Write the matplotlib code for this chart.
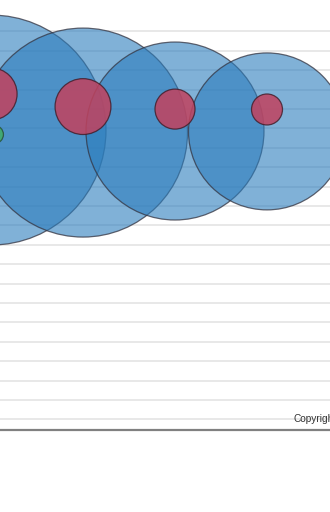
import numpy as np
import matplotlib
matplotlib.use("Agg")
import matplotlib.pyplot as plt

# category positions along x (index), only the left part of the chart is visible
blue_x = [0, 1, 2, 3]
blue_y = [14.91, 14.78, 14.86, 14.84]
blue_z = [132.3, 109.2, 79.2, 61.6]

red_x = [0, 1, 2, 3]
red_y = [16.77, 16.12, 15.99, 15.97]
red_z = [6.8, 7.8, 4.0, 2.4]

green_x = [0.03]
green_y = [14.71]
green_z = [0.8]

grid_ticks = list(range(21))


def bubble_size(z):
    # z -> radius in px (10*sqrt(z)), then to scatter area in points^2
    r_px = 10 * np.sqrt(np.array(z))
    return (2 * r_px * 72 / 100) ** 2


fig = plt.figure(figsize=(3.3, 5.12), dpi=100)
ax = fig.add_axes([0, 82 / 512, 1, 430 / 512])

ax.set_xlim(9 / 92, 339 / 92)
ax.set_ylim(-0.55, 419.3 / 19.4)

ax.set_yticks(grid_ticks)
ax.yaxis.grid(True, color="#e8e8e8", linewidth=1.4)
ax.set_axisbelow(True)
ax.set_xticks([])
ax.tick_params(left=False, labelleft=False)
for side in ["top", "left", "right"]:
    ax.spines[side].set_visible(False)
ax.spines["bottom"].set_color("#808080")
ax.spines["bottom"].set_linewidth(1.6)

ax.scatter(blue_x, blue_y, s=bubble_size(blue_z),
           facecolor=(0.17, 0.49, 0.74, 0.6), edgecolor=(0.2, 0.2, 0.25, 0.75),
           linewidth=0.9, clip_on=False, zorder=3)
ax.scatter(red_x, red_y, s=bubble_size(red_z),
           facecolor=(0.76, 0.26, 0.37, 0.85), edgecolor=(0.25, 0.1, 0.15, 0.8),
           linewidth=0.9, clip_on=False, zorder=4)
ax.scatter(green_x, green_y, s=bubble_size(green_z),
           facecolor=(0.25, 0.68, 0.4, 0.85), edgecolor=(0.15, 0.3, 0.2, 0.8),
           linewidth=0.9, clip_on=False, zorder=4)

# the credit text runs off the right edge, as in the reference
fig.text(293 / 330, 1 - 419 / 512, "Copyright", fontsize=7.3,
         color="#333333", ha="left", va="center", family="Liberation Sans")

fig.savefig("out.png", dpi=100)
